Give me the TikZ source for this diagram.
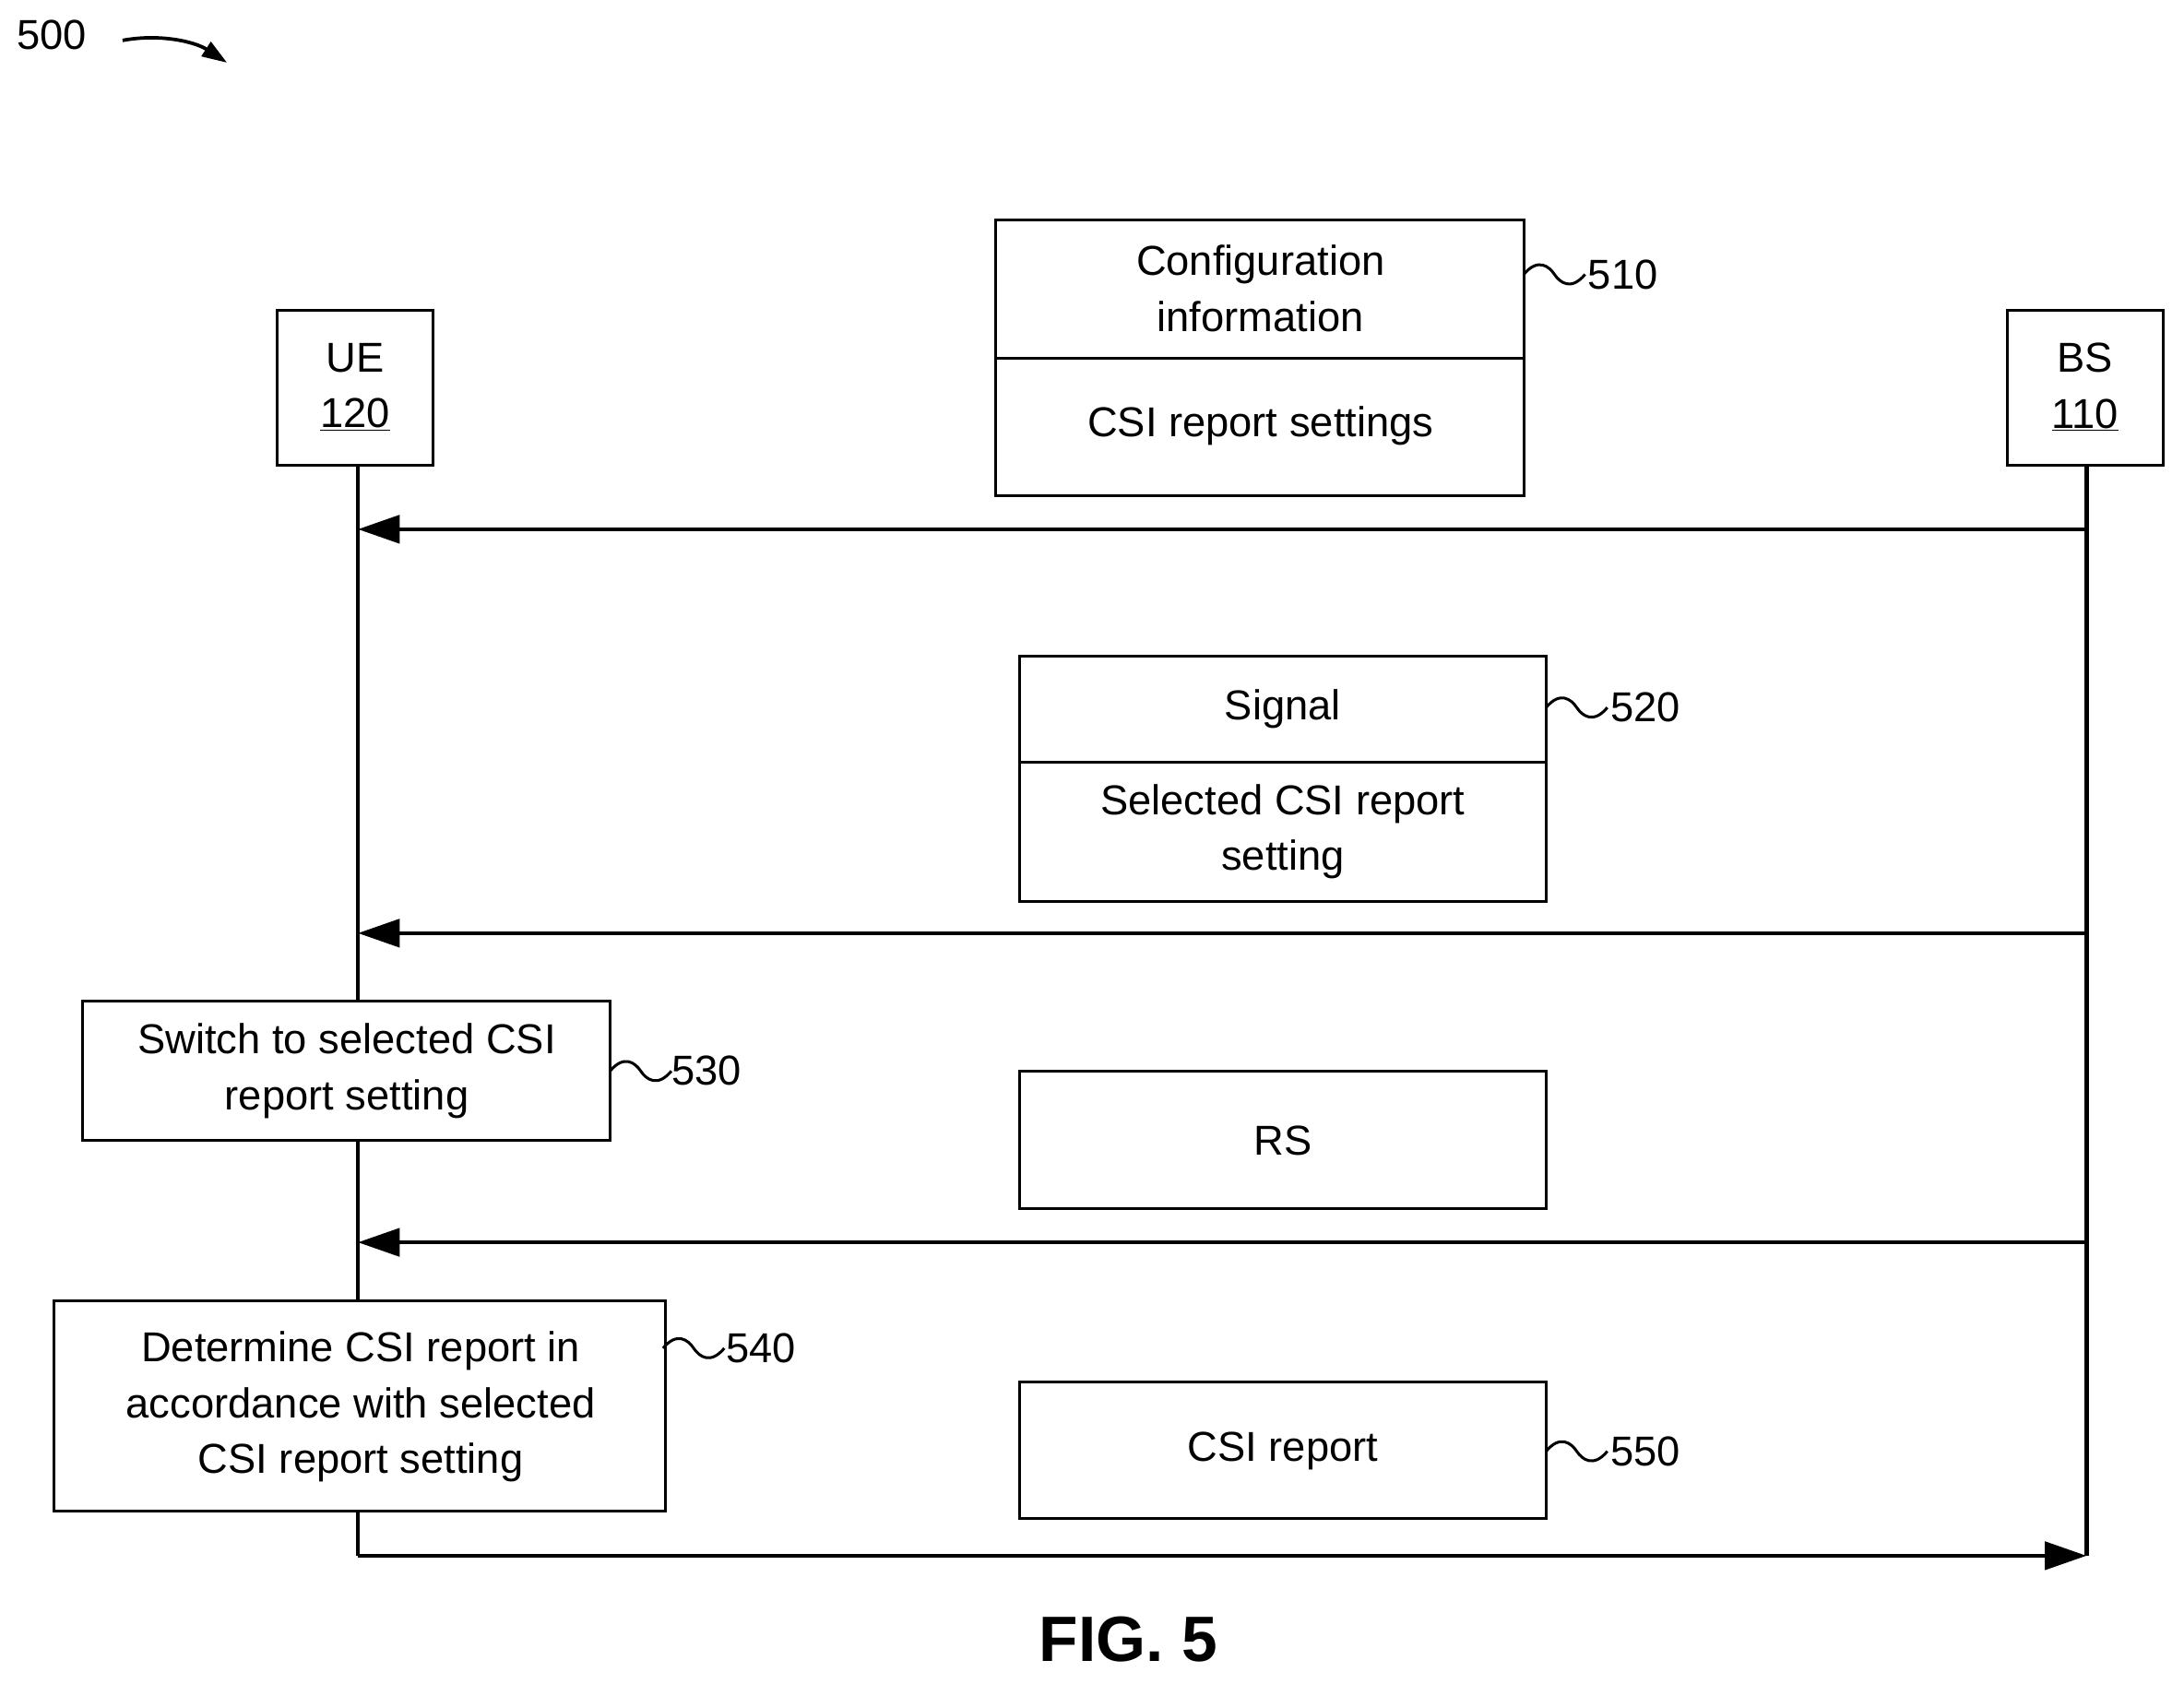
\documentclass[tikz,border=0pt]{standalone}
\usepackage{fontspec}
\setmainfont{Liberation Sans}
\usetikzlibrary{arrows.meta}
\begin{document}
\begin{tikzpicture}[x=1pt,y=-1pt,
  box/.style={draw,line width=2pt,inner sep=0pt},
  txt/.style={font=\fontsize{30}{40}\selectfont,align=center},
  life/.style={line width=3pt},
  msg/.style={line width=3pt,-{Triangle[length=30,width=20]}},
  tl/.style={line width=2pt},
  lbl/.style={font=\fontsize{30}{36}\selectfont,anchor=west,inner sep=0pt}]
\useasboundingbox (0,0) rectangle (1568,1209);
\newcommand{\tld}[2]{\draw[tl] (#1,#2) .. controls (#1+10,#2-12) and (#1+18,#2-6) .. (#1+22,#2) .. controls (#1+26,#2+6) and (#1+34,#2+12) .. (#1+44,#2);}
% 500
\node[lbl] (n500) at (12,25) {500};
\coordinate (a500) at (163,45);
\draw[line width=2.5pt,-{Triangle[length=18,width=12]}] (88,29) .. controls (115,24) and (140,30) .. (a500);
% UE / BS
\draw[box] (199,223) rectangle (311,334);
\node[txt] (ue) at (255,278) {UE\\\underline{120}};
\draw[box] (1441,223) rectangle (1553,334);
\node[txt] (bs) at (1497,278) {BS\\\underline{110}};
\coordinate (ueT) at (257,334); \coordinate (ueB) at (257,1117);
\coordinate (bsT) at (1498,334); \coordinate (bsB) at (1498,1117);
\draw[life] (ueT) -- (ueB);
\draw[life] (bsT) -- (bsB);
% 510
\draw[box] (715,158) rectangle (1094,356);
\draw[line width=2pt] (715,257) -- (1094,257);
\node[txt] (c1) at (905,207) {Configuration\\information};
\node[txt] (c2) at (905,306) {CSI report settings};
\tld{1094}{197}
\node[lbl] (l510) at (1140,197) {510};
\coordinate (m1b) at (1498,380); \coordinate (m1a) at (257,380);
\draw[msg] (m1b) -- (m1a);
% 520
\draw[box] (732,471) rectangle (1110,647);
\draw[line width=2pt] (732,547) -- (1110,547);
\node[txt] (s1) at (921,509) {Signal};
\node[txt] (s2) at (921,597) {Selected CSI report\\setting};
\tld{1110}{508}
\node[lbl] (l520) at (1156,508) {520};
\coordinate (m2b) at (1498,670); \coordinate (m2a) at (257,670);
\draw[msg] (m2b) -- (m2a);
% 530
\draw[box,fill=white] (59,719) rectangle (438,819);
\node[txt] (sw) at (249,769) {Switch to selected CSI\\report setting};
\tld{438}{769}
\node[lbl] (l530) at (482,769) {530};
\draw[box] (732,769) rectangle (1110,868);
\node[txt] (rs) at (921,819) {RS};
\coordinate (m3b) at (1498,892); \coordinate (m3a) at (257,892);
\draw[msg] (m3b) -- (m3a);
% 540
\draw[box,fill=white] (39,934) rectangle (478,1085);
\node[txt] (det) at (259,1010) {Determine CSI report in\\accordance with selected\\CSI report setting};
\tld{476}{968}
\node[lbl] (l540) at (521,968) {540};
\draw[box] (732,992) rectangle (1110,1090);
\node[txt] (csi) at (921,1042) {CSI report};
\tld{1110}{1042}
\node[lbl] (l550) at (1156,1042) {550};
\draw[msg] (ueB) -- (bsB);
\node[font=\fontsize{46}{50}\selectfont\bfseries] (fig) at (810,1177) {FIG. 5};
\end{tikzpicture}
\end{document}
